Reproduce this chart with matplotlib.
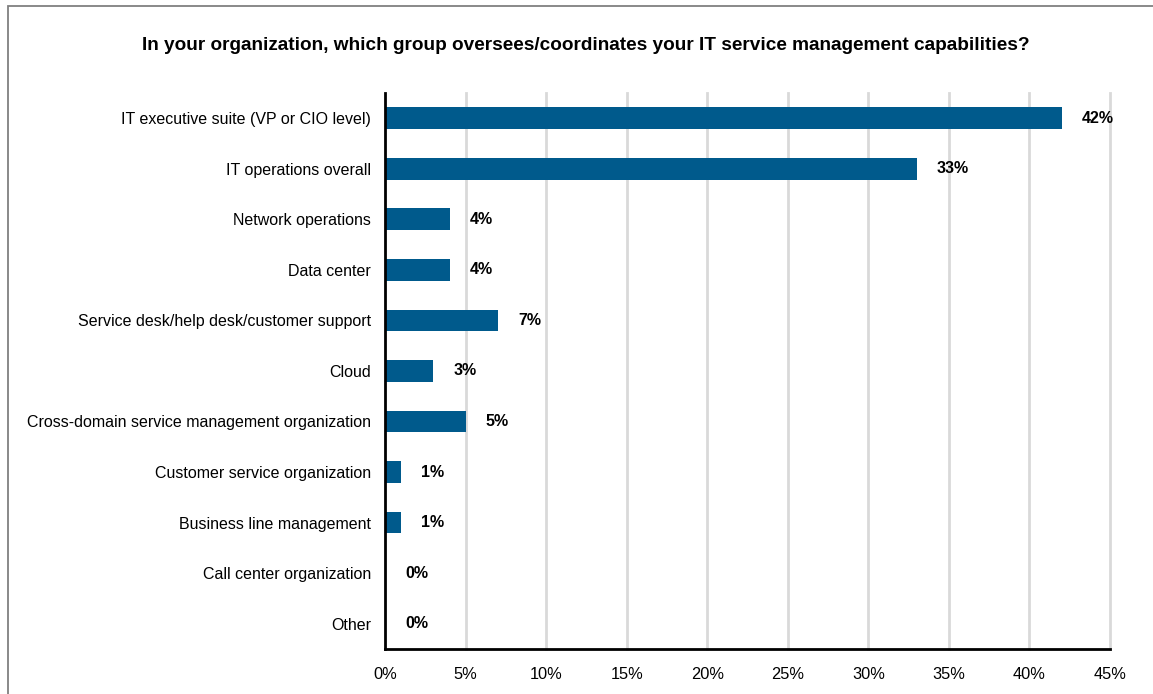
import matplotlib.pyplot as plt
from matplotlib.patches import Rectangle

plt.rcParams['font.family'] = ['Liberation Sans', 'DejaVu Sans']

categories = ['IT executive suite (VP or CIO level)', 'IT operations overall',
              'Network operations', 'Data center',
              'Service desk/help desk/customer support', 'Cloud',
              'Cross-domain service management organization',
              'Customer service organization', 'Business line management',
              'Call center organization', 'Other']
values = [42, 33, 4, 4, 7, 3, 5, 1, 1, 0, 0]
x_ticks = [0, 5, 10, 15, 20, 25, 30, 35, 40, 45]
tick_labels = ['%d%%' % t for t in x_ticks]

bar_color = '#005a8c'

fig = plt.figure(figsize=(11.53, 6.94), dpi=100)
ax = fig.add_axes((0.334, 0.065, 0.6287, 0.801))

pos = list(range(len(categories)))
ax.barh(pos, values, height=0.43, color=bar_color, zorder=3)
for p, v in zip(pos, values):
    ax.text(v + 1.25, p, '%d%%' % v, va='center', ha='left',
            fontsize=11.5, fontweight='bold', color='black')

ax.set_ylim(len(categories) - 0.5, -0.5)
ax.set_xlim(0, 45)
ax.set_yticks(pos)
ax.set_yticklabels(categories, fontsize=11.5)
ax.set_xticks(x_ticks)
ax.set_xticklabels(tick_labels, fontsize=11.8)
ax.tick_params(axis='both', length=0)
ax.tick_params(axis='y', pad=10)
ax.tick_params(axis='x', pad=13)

# vertical gridlines, the last one sits on the axes edge so don't clip it
for t in x_ticks[1:]:
    ax.axvline(t, color='#d9d9d9', linewidth=2, zorder=0, clip_on=False)
for side in ('top', 'right'):
    ax.spines[side].set_visible(False)
for side in ('left', 'bottom'):
    ax.spines[side].set_linewidth(2)
    ax.spines[side].set_color('black')
    ax.spines[side].set_zorder(4)

fig.text(0.508, 0.935,
         'In your organization, which group oversees/coordinates your IT service management capabilities?',
         ha='center', va='center', fontsize=13.7, fontweight='bold')

# thin frame around the figure
fig.patches.append(Rectangle((8 / 1153, -0.05), 1.1, (694 - 5.5) / 694 + 0.05,
                             transform=fig.transFigure, fill=False,
                             edgecolor='#808080', linewidth=1.3))

fig.savefig('out.png', dpi=100)
